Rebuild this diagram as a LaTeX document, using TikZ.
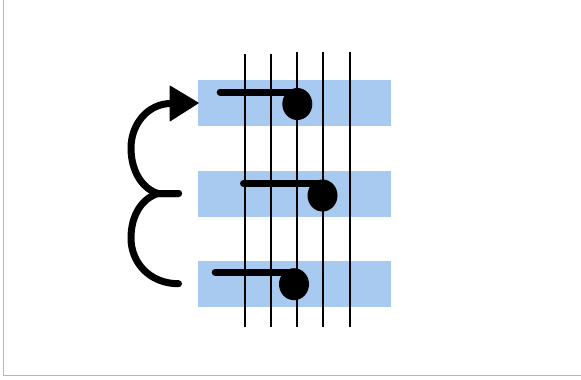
\documentclass[tikz,border=0pt]{standalone}
\begin{document}
\begin{tikzpicture}[x=1pt,y=-1pt,
  band/.style={fill=bandblue},
  staffline/.style={draw=black,line width=2pt},
  notebar/.style={draw=black,line width=7pt,line cap=round},
  notehead/.style={fill=black},
  loopline/.style={draw=black,line width=7pt,line cap=round,line join=round},
  frameline/.style={draw=framemauve,line width=1pt}]
\definecolor{bandblue}{HTML}{A8CAF0}
\definecolor{framemauve}{HTML}{C9A9C9}
\useasboundingbox (0,0) rectangle (581,380);
% frame
\draw[frameline] (3.5,0) -- (3.5,375.5) -- (581,375.5);
% bands
\fill[band] (198,79.5) rectangle (391,125.5);
\fill[band] (198,171) rectangle (391,217);
\fill[band] (198,261) rectangle (391,307);
% staff lines
\draw[staffline] (244.5,54) -- (244.5,327);
\draw[staffline] (271,54) -- (271,327);
\draw[staffline] (297,52) -- (297,327);
\draw[staffline] (323.3,52) -- (323.3,327);
\draw[staffline] (350,52) -- (350,327);
% notes
\coordinate (n1s) at (220.2,92);
\coordinate (n1h) at (297.3,104);
\draw[notebar] (n1s) -- (n1h |- n1s);
\fill[notehead] (n1h) ellipse [x radius=15, y radius=16];
\coordinate (n2s) at (243.5,183.5);
\coordinate (n2h) at (322.5,195.5);
\draw[notebar] (n2s) -- (n2h |- n2s);
\fill[notehead] (n2h) ellipse [x radius=15, y radius=16];
\coordinate (n3s) at (215.2,272.3);
\coordinate (n3h) at (294,284.2);
\draw[notebar] (n3s) -- (n3h |- n3s);
\fill[notehead] (n3h) ellipse [x radius=15, y radius=16];
% loop arrow
\coordinate (M) at (178.5,193.5);
\coordinate (Mj) at (158,193.5);
\coordinate (T) at (171,103.5);
\coordinate (B) at (178.5,283.7);
\draw[loopline] (M) -- (Mj) .. controls (143,189) and (131,172) .. (131,148)
  .. controls (131,124) and (148,103.5) .. (T);
\draw[loopline] (M) -- (Mj) .. controls (143,198) and (131,214) .. (131,238)
  .. controls (131,263) and (150,283.7) .. (B);
\coordinate (tip) at (198.3,103);
\fill[line join=round,draw=black,line width=0.8pt] (tip) -- (170,86) -- (170,121) -- cycle;
\end{tikzpicture}
\end{document}
